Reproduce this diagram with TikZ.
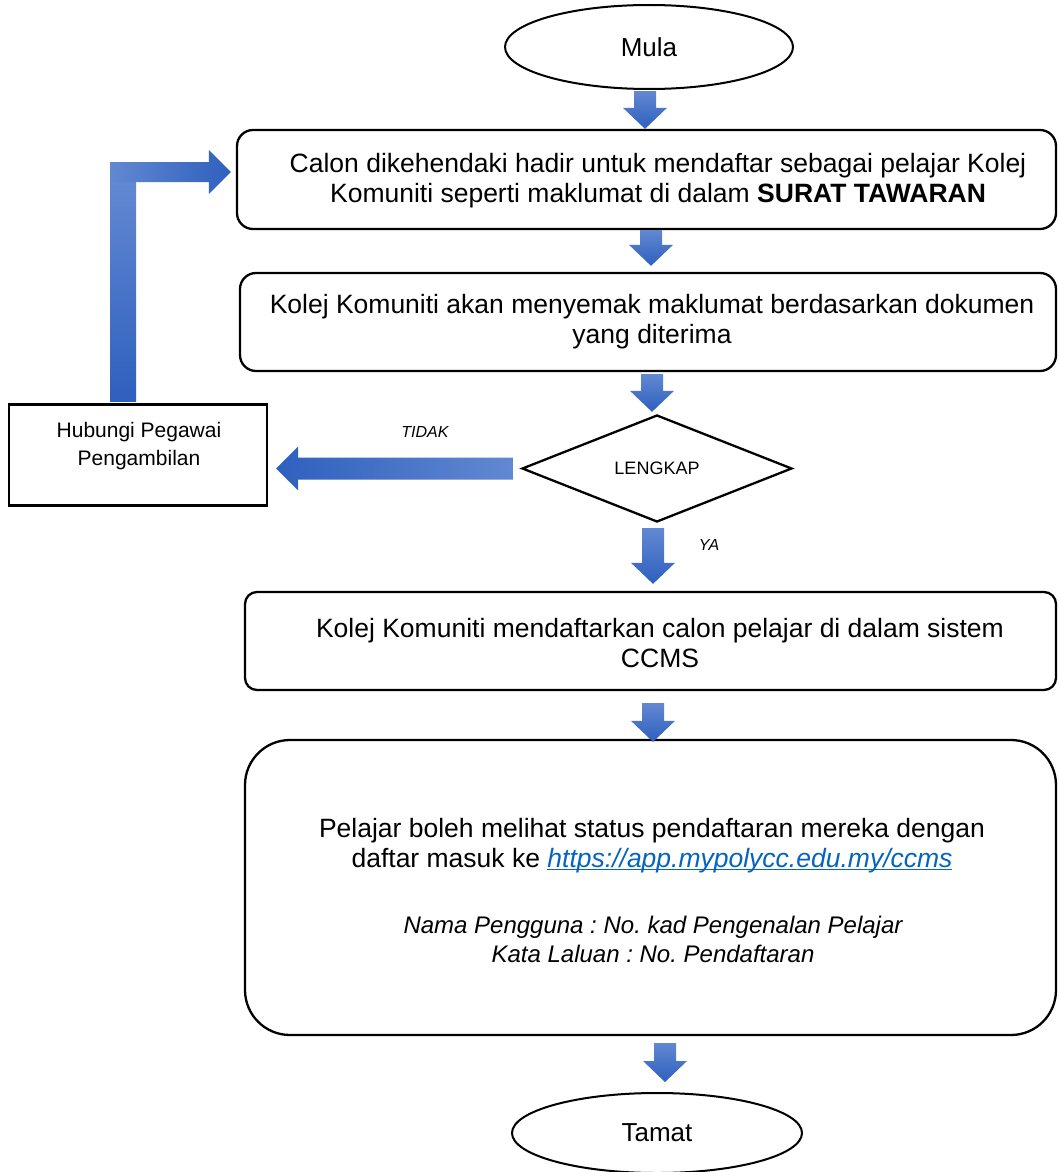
\documentclass[tikz,border=0pt]{standalone}
\usepackage{fontspec}
\setmainfont{Liberation Sans}
\usetikzlibrary{shapes.geometric,calc}
\frenchspacing
\definecolor{arrL}{RGB}{98,136,210}
\definecolor{arrD}{RGB}{46,96,190}
\definecolor{linkc}{RGB}{5,99,193}
\newsavebox\myulbox
\newcommand\myul[1]{\sbox\myulbox{#1}\rlap{\rule[-2.5pt]{\wd\myulbox}{1.3pt}}\usebox\myulbox}
\newcommand\bigfont{\fontsize{26.5}{30}\selectfont}
% block arrow pointing down: #1 start (shaft top), #2 tip
\newcommand\bdown[2]{%
  \shade[top color=arrL,bottom color=arrD] let \p1=#1, \p2=#2 in
    (\x2-11pt,\y1) -- (\x2+11pt,\y1) -- (\x2+11pt,\y2+21pt) -- (\x2+22pt,\y2+21pt)
    -- (\x2,\y2) -- (\x2-22pt,\y2+21pt) -- (\x2-11pt,\y2+21pt) -- cycle;}
\begin{document}
\begin{tikzpicture}[x=1pt,y=-1pt]
\tikzset{
  term/.style={ellipse, draw, line width=2pt, inner sep=0pt, font=\fontsize{26}{30}\selectfont},
  procbox/.style={draw, line width=2.3pt, rounded corners=16pt, inner sep=0pt},
  decision/.style={diamond, draw, line width=2.3pt, inner sep=0pt, font=\fontsize{18}{22}\selectfont},
  plainbox/.style={draw, line width=2.3pt, inner sep=0pt},
  txt/.style={align=center, inner sep=0pt, font=\bigfont},
  lbl/.style={inner sep=0pt, font=\fontsize{16}{20}\selectfont\itshape},
}
\fill[white] (0,0) rectangle (1058,1172);
\useasboundingbox (0,0) rectangle (1058,1172);

% shapes
\node[term, minimum width=288pt, minimum height=84pt] (mula) at (649,47) {Mula};
\node[procbox, minimum width=819pt, minimum height=99pt] (box1) at (646.5,179.5) {};
\node[procbox, minimum width=816pt, minimum height=98pt] (box2) at (648,322) {};
\node[decision, minimum width=270pt, minimum height=107pt] (dia) at (657,468.5) {LENGKAP};
\node[plainbox, minimum width=258pt, minimum height=101pt] (left) at (138,455) {};
\node[procbox, rounded corners=12pt, minimum width=811pt, minimum height=98pt] (box3) at (650.5,641) {};
\node[procbox, rounded corners=45pt, minimum width=811pt, minimum height=295pt] (big) at (650.5,887.5) {};
\node[term, minimum width=290pt, minimum height=80pt] (tamat) at (657,1133) {Tamat};

% texts
\node[txt] (t1) at (658,181) {Calon dikehendaki hadir untuk mendaftar sebagai pelajar Kolej\\Komuniti seperti maklumat di dalam \textbf{SURAT TAWARAN}};
\node[txt] (t2) at (652,322) {Kolej Komuniti akan menyemak maklumat berdasarkan dokumen\\yang diterima};
\node[txt] (t3) at (660,643) {Kolej Komuniti mendaftarkan calon pelajar di dalam sistem\\CCMS};
\node[txt] (t4a) at (652,846) {Pelajar boleh melihat status pendaftaran mereka dengan\\daftar masuk ke {\color{linkc}\itshape\myul{https://app.mypolycc.edu.my/ccms}}};
\node[txt, font=\fontsize{24}{29}\selectfont\itshape] (t4b) at (653,939.5) {Nama Pengguna : No. kad Pengenalan Pelajar\\Kata Laluan : No. Pendaftaran};
\node[txt, font=\fontsize{21}{28}\selectfont] (tleft) at (139,446) {Hubungi Pegawai\\Pengambilan};
\node[lbl] (tidak) at (425,432) {TIDAK};
\node[lbl] (ya) at (709,545) {YA};

% block arrows
\bdown{([yshift=-1pt]mula.south)}{([xshift=-1.5pt]box1.north)}
\bdown{(box1.south)}{([xshift=3pt,yshift=6pt]box2.north)}
\bdown{([yshift=-2pt]box2.south)}{([xshift=-5pt,yshift=2pt]dia.north)}
\bdown{([yshift=-5pt]dia.south)}{([xshift=2.5pt,yshift=7pt]box3.north)}
\bdown{([yshift=-12pt]box3.south)}{([xshift=2.5pt,yshift=-3pt]big.north)}
\bdown{([yshift=-7pt]big.south)}{([xshift=8pt,yshift=10pt]tamat.north)}

% TIDAK arrow (left)
\shade[left color=arrD,right color=arrL] let \p1=([xshift=-8pt]dia.west), \p2=([xshift=8pt]left.east) in
  (\x1,\y1+11pt) -- (\x2+22pt,\y1+11pt) -- (\x2+22pt,\y1+22pt) -- (\x2,\y1)
  -- (\x2+22pt,\y1-22pt) -- (\x2+22pt,\y1-11pt) -- (\x1,\y1-11pt) -- cycle;

% bent arrow back to box1
\coordinate (lstart) at ([xshift=-15pt,yshift=2pt]left.north);
\coordinate (ltip) at ([xshift=-5pt,yshift=7.5pt]box1.west);
\shade[top color=arrL,bottom color=arrD] let \p1=(lstart), \p2=(ltip) in
  (\x1-13pt,\y1) -- (\x1+13pt,\y1) -- (\x1+13pt,\y2-10pt) -- (\x1-13pt,\y2-10pt) -- cycle;
\shade[left color=arrL,right color=arrD] let \p1=(lstart), \p2=(ltip) in
  (\x1-13pt,\y2+10pt) -- (\x2-22pt,\y2+10pt) -- (\x2-22pt,\y2+22pt) -- (\x2,\y2)
  -- (\x2-22pt,\y2-22pt) -- (\x2-22pt,\y2-10pt) -- (\x1-13pt,\y2-10pt) -- cycle;
\end{tikzpicture}
\end{document}
